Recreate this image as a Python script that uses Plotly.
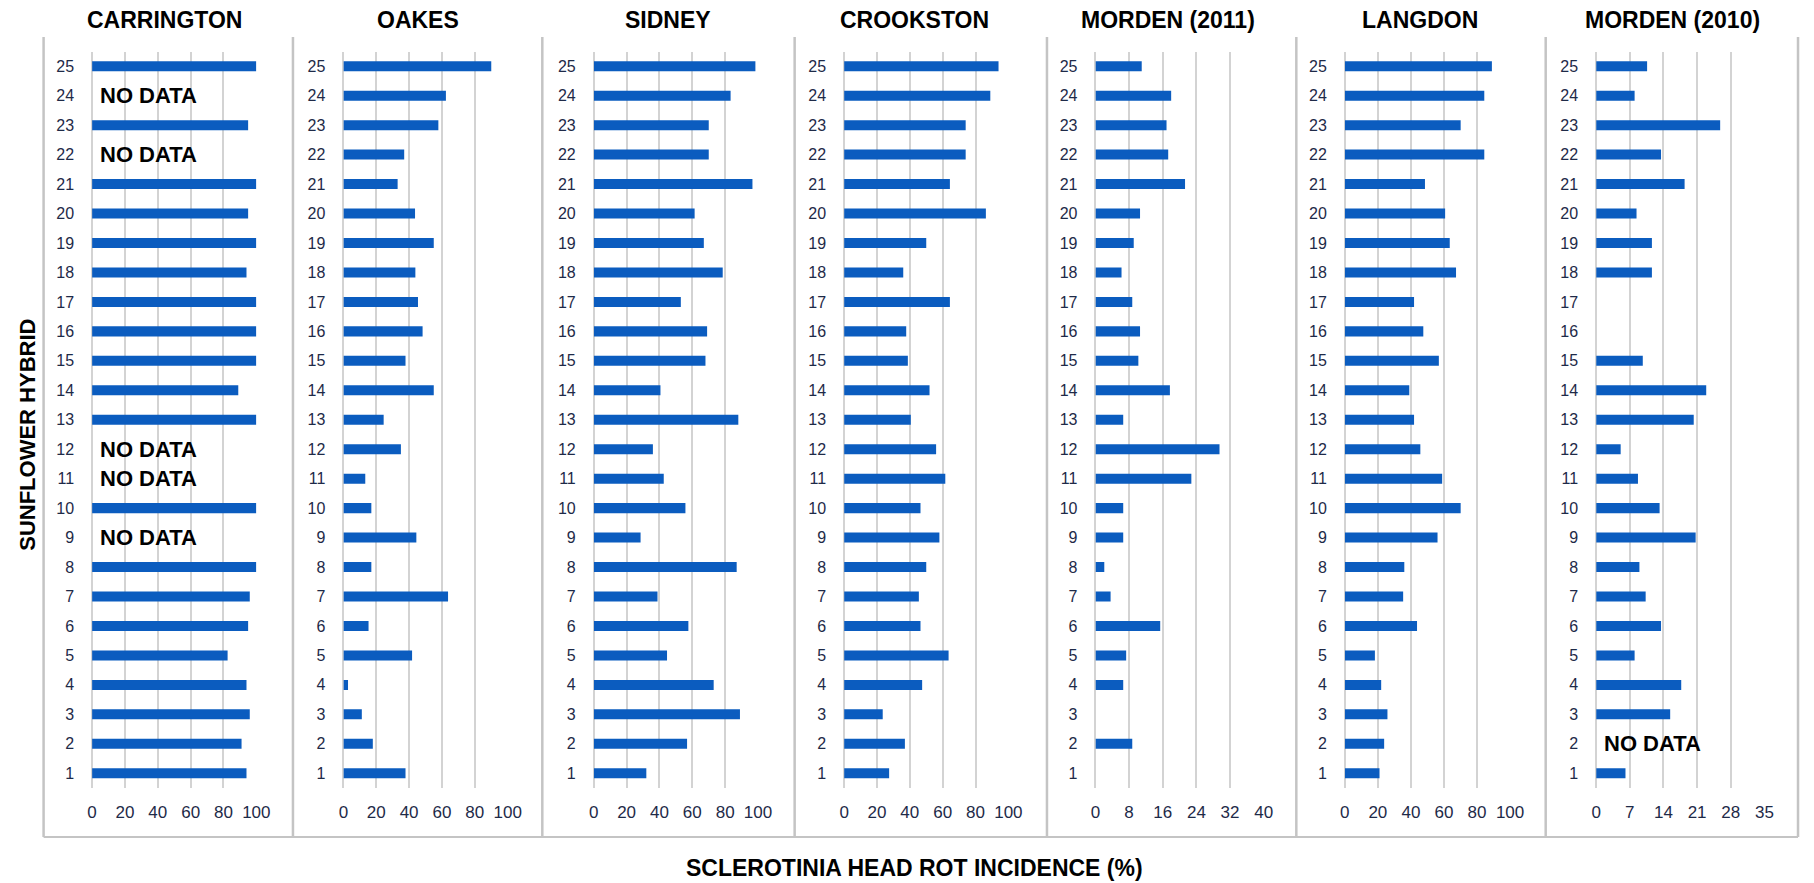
import plotly.graph_objects as go

hybrids = list(range(1, 26))

sites = ["CARRINGTON", "OAKES", "SIDNEY", "CROOKSTON", "MORDEN (2011)", "LANGDON", "MORDEN (2010)"]

# values listed for hybrid 1 .. 25 (None = no bar)
carrington = [94, 91, 96, 94, 82.5, 95, 96, 100, None, 100, None, None, 100, 89, 100, 100, 100, 94, 100, 95, 100, None, 95, None, 100]
oakes = [37.8, 17.9, 11.2, 2.8, 41.8, 15.3, 63.7, 17, 44.4, 17, 13.3, 35, 24.5, 55, 37.8, 48.2, 45.4, 43.8, 55, 43.6, 33, 37, 57.8, 62.4, 90]
sidney = [32, 56.8, 89, 73, 44.6, 57.6, 38.8, 87, 28.5, 55.8, 42.6, 36, 88, 40.6, 68, 69, 53, 78.5, 67, 61.4, 96.6, 70, 70, 83.3, 98.4]
crookston = [27.4, 37, 23.5, 47.5, 63.6, 46.5, 45.5, 50, 58, 46.5, 61.6, 56, 40.6, 52, 38.8, 37.8, 64.4, 36, 50, 86.3, 64.4, 74, 74, 89, 94]
morden2011 = [None, 8.75, None, 6.6, 7.3, 15.4, 3.6, 2.1, 6.6, 6.6, 22.8, 29.5, 6.6, 17.7, 10.2, 10.6, 8.75, 6.2, 9.1, 10.6, 21.3, 17.3, 16.9, 18, 11]
langdon = [21, 23.8, 25.8, 22, 18.2, 43.7, 35.3, 36, 56.1, 70.1, 58.9, 45.7, 41.9, 39, 56.9, 47.5, 41.9, 67.3, 63.5, 60.7, 48.5, 84.4, 70.1, 84.4, 89]
morden2010 = [6.1, None, 15.4, 17.7, 8, 13.5, 10.3, 9, 20.7, 13.2, 8.7, 5.1, 20.3, 22.9, 9.7, None, None, 11.6, 11.6, 8.4, 18.4, 13.5, 25.8, 8, 10.6]

series = [carrington, oakes, sidney, crookston, morden2011, langdon, morden2010]

x_max = [100, 100, 100, 100, 40, 100, 35]
x_dtick = [20, 20, 20, 20, 8, 20, 7]

# "NO DATA" notes: (panel index, hybrid)
no_data = [(0, 24), (0, 22), (0, 12), (0, 11), (0, 9), (6, 2)]

W, H = 1814, 883
zero_px = [88, 342, 595, 848, 1102, 1354, 1608]
max_px = [254, 508, 761, 1014, 1272, 1521, 1778]
panel_edges = [39, 291, 543, 798, 1053, 1305, 1557, 1812]
title_cx = [161, 417, 670, 919, 1175, 1430, 1685]
plot_top, plot_bot = 51.5, 788

BAR = "#0b5cbf"
GRID = "#d3d3d3"
TICKC = "#1e2a48"
FONT = "Liberation Sans, Arial, sans-serif"

fig = go.Figure()
layout = dict(
    width=W, height=H, margin=dict(l=0, r=0, t=0, b=0),
    paper_bgcolor="white", plot_bgcolor="white", showlegend=False,
    bargap=0.66,
)

annotations = []
shapes = []
for i, vals in enumerate(series):
    ax = "" if i == 0 else str(i + 1)
    fig.add_trace(go.Bar(
        x=vals, y=hybrids, orientation="h", marker=dict(color=BAR, line=dict(width=0)),
        xaxis="x" + ax, yaxis="y" + ax, width=0.34,
    ))
    layout["xaxis" + ax] = dict(
        domain=[zero_px[i] / W, max_px[i] / W], range=[0, x_max[i]],
        tickmode="linear", tick0=0, dtick=x_dtick[i],
        showgrid=True, gridcolor=GRID, gridwidth=1.5,
        zeroline=True, zerolinecolor=GRID, zerolinewidth=1.5,
        showline=False, ticks="", ticklabelstandoff=12,
        tickfont=dict(family=FONT, size=17, color=TICKC),
        anchor="y" + ax, fixedrange=True,
    )
    layout["yaxis" + ax] = dict(
        domain=[1 - plot_bot / H, 1 - plot_top / H], range=[0.5, 25.5],
        tickmode="array", tickvals=hybrids, ticktext=[str(h) for h in hybrids],
        showgrid=False, zeroline=False, showline=False, ticks="",
        ticklabelstandoff=17,
        tickfont=dict(family=FONT, size=16, color=TICKC),
        anchor="x" + ax, fixedrange=True,
    )
    annotations.append(dict(
        text="<b>" + sites[i] + "</b>", x=title_cx[i] / W, y=1 - 20 / H,
        xref="paper", yref="paper", xanchor="center", yanchor="middle",
        showarrow=False, font=dict(family=FONT, size=23, color="black"),
    ))

for (p, h) in no_data:
    ax = "" if p == 0 else str(p + 1)
    annotations.append(dict(
        text="<b>NO DATA</b>", x=x_max[p] * 0.035, y=h,
        xref="x" + ax, yref="y" + ax, xanchor="left", yanchor="middle",
        showarrow=False, font=dict(family=FONT, size=22, color="black"),
    ))

annotations.append(dict(
    text="<b>SCLEROTINIA HEAD ROT INCIDENCE (%)</b>", x=919 / W, y=1 - 868 / H,
    xref="paper", yref="paper", xanchor="center", yanchor="middle",
    showarrow=False, font=dict(family=FONT, size=23, color="black"),
))
annotations.append(dict(
    text="<b>SUNFLOWER HYBRID</b>", x=22 / W, y=1 - 435 / H, textangle=-90,
    xref="paper", yref="paper", xanchor="center", yanchor="middle",
    showarrow=False, font=dict(family=FONT, size=22, color="black"),
))

for e in panel_edges:
    shapes.append(dict(type="line", xref="paper", yref="paper",
                       x0=e / W, x1=e / W, y0=1 - 837 / H, y1=1 - 37 / H,
                       line=dict(color="#c4c4c4", width=2.5)))
shapes.append(dict(type="line", xref="paper", yref="paper",
                   x0=panel_edges[0] / W, x1=panel_edges[-1] / W,
                   y0=1 - 837 / H, y1=1 - 837 / H,
                   line=dict(color="#c4c4c4", width=2)))

layout["annotations"] = annotations
layout["shapes"] = shapes
fig.update_layout(**layout)
fig.write_html("out.html")
